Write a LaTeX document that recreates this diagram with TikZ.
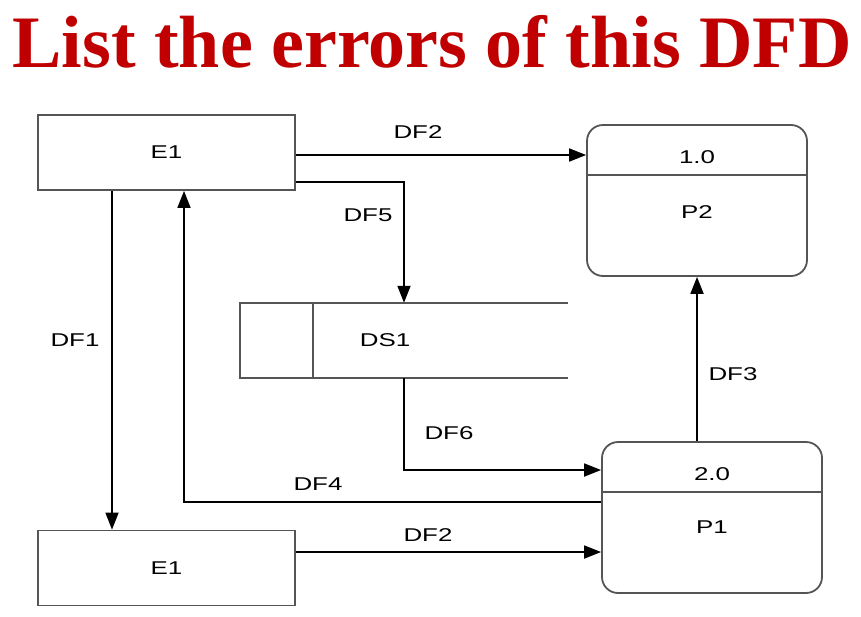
\documentclass[tikz,border=0pt]{standalone}
\usepackage{fontspec}
\setmainfont{Liberation Sans}
\newfontfamily\dfdfont[FakeStretch=1.4]{Liberation Sans}
\newfontfamily\titlefont{Liberation Serif}
\definecolor{titleRed}{RGB}{192,0,0}
\definecolor{edgeGray}{RGB}{85,85,85}
\usetikzlibrary{arrows.meta,positioning}

\begin{document}
\begin{tikzpicture}[
  x=1pt, y=-1pt,
  ent/.style={
    draw=edgeGray, line width=1.8pt, minimum width=257pt, minimum height=75pt,
    inner sep=0pt, font=\dfdfont\fontsize{18.5}{20}\selectfont
  },
  proc/.style={
    draw=edgeGray, line width=1.8pt, rounded corners=16pt,
    minimum width=220pt, minimum height=151pt, inner sep=0pt
  },
  lbl/.style={font=\dfdfont\fontsize{18.5}{20}\selectfont, inner sep=0pt},
  arr/.style={->, >={Triangle[length=17pt,width=13pt]}, draw=black, line width=1.8pt}
]
  \useasboundingbox (0,0) rectangle (861,616);
  \node[font=\titlefont\bfseries\fontsize{74}{80}\selectfont, text=titleRed,
    anchor=base, inner sep=0pt] (title) at (432,67) {List the errors of this DFD};

  \node[ent] (E1a) at (166.5,152.5) {E1};
  \node[ent] (E1b) at (166.5,568) {E1};

  \node[proc] (P2) at (697,200.5) {};
  \draw[edgeGray, line width=1.3pt] (P2.west |- 0,175) -- (P2.east |- 0,175);
  \node[lbl] (P2id) at (697,157) {1.0};
  \node[lbl] (P2nm) at (697,212) {P2};

  \node[proc] (P1) at (712,517.5) {};
  \draw[edgeGray, line width=1.3pt] (P1.west |- 0,492) -- (P1.east |- 0,492);
  \node[lbl] (P1id) at (712,474) {2.0};
  \node[lbl] (P1nm) at (712,527) {P1};

  \node[minimum width=328pt, minimum height=75pt, inner sep=0pt] (DS1) at (404,340.5) {};
  \draw[edgeGray, line width=1.8pt] (DS1.north east) -- (DS1.north west)
    -- (DS1.south west) -- (DS1.south east);
  \draw[edgeGray, line width=1.8pt] (313,303) -- (313,378);
  \node[lbl] (DS1nm) at (385,340) {DS1};

  \draw[arr] ([yshift=-2.5pt]E1a.east) -- ([yshift=-2.5pt]E1a.east -| P2.west);
  \draw[arr] ([yshift=9pt]E1a.south east) -| (DS1.north);
  \draw[arr] (DS1.south) |- ([yshift=47.5pt]P1.west);
  \draw[arr] ([yshift=15.5pt]P1.west) -| ([xshift=17.5pt]E1a.south);
  \draw[arr] ([xshift=-54.5pt]E1a.south) -- ([xshift=-54.5pt]E1b.north);
  \draw[arr] ([yshift=16pt]E1b.east) -- ([yshift=16pt]E1b.east -| P1.west);
  \draw[arr] ([xshift=-15pt]P1.north) -- (P2.south);

  \node[lbl] (f2a) at (418,132) {DF2};
  \node[lbl] (f5) at (368,215) {DF5};
  \node[lbl] (f1) at (75,340) {DF1};
  \node[lbl] (f3) at (733,374) {DF3};
  \node[lbl] (f6) at (449,433) {DF6};
  \node[lbl] (f4) at (318,484) {DF4};
  \node[lbl] (f2b) at (428,535) {DF2};
\end{tikzpicture}
\end{document}
